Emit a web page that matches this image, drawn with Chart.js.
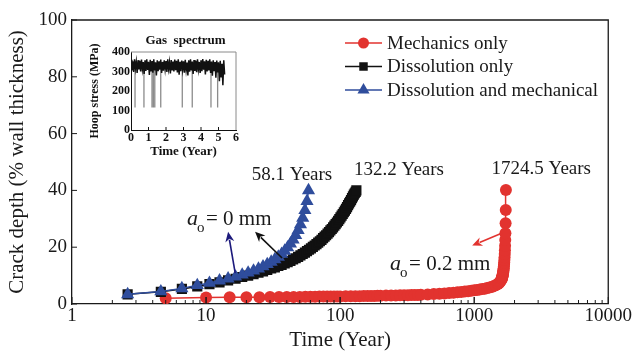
<!DOCTYPE html>
<html>
<head>
<meta charset="utf-8">
<script src="https://cdn.jsdelivr.net/npm/chart.js@4.4.0/dist/chart.umd.min.js"></script>
<style>
  html, body { margin: 0; padding: 0; background: #fff; }
  #wrap { position: relative; width: 633px; height: 358px; }
  #main { position: absolute; left: 0; top: 0; }
  #insetBox { position: absolute; left: 88px; top: 28px; width: 152px; height: 132px; }
</style>
</head>
<body>
<div id="wrap">
  <canvas id="main" width="633" height="358"></canvas>
  <div id="insetBox"><canvas id="inset" width="152" height="132"></canvas></div>
</div>
<script>
// mechanics only (a0 = 0.2 mm)
const mechTime = [5, 10, 15, 20, 25, 30, 35, 40, 45, 50, 55, 60, 65, 70, 75, 80, 85, 90, 95, 100,
  110, 120, 130, 140, 150, 160, 170, 180, 190, 200,
  220, 240, 260, 280, 300, 320, 340, 360, 380, 400,
  450, 500, 550, 600, 650, 700, 750, 800, 850, 900, 950, 1000, 1050, 1100, 1150, 1200, 1250, 1300, 1350, 1400, 1450, 1500,
  1520, 1540, 1560, 1580, 1600,
  1605, 1610, 1615, 1620, 1625, 1630, 1635, 1640, 1645, 1650, 1655, 1660, 1665, 1670, 1675, 1680, 1685, 1690, 1695, 1700,
  1705, 1710, 1715, 1720, 1724.5];
const mechDepth = [2.0, 2.3, 2.35, 2.4, 2.4, 2.45, 2.45, 2.5, 2.5, 2.5, 2.55, 2.55, 2.55, 2.6, 2.6, 2.6, 2.6, 2.65, 2.65, 2.65,
  2.7, 2.7, 2.75, 2.75, 2.8, 2.8, 2.85, 2.85, 2.9, 2.9,
  2.95, 3.0, 3.0, 3.05, 3.1, 3.1, 3.15, 3.2, 3.2, 3.25,
  3.35, 3.5, 3.6, 3.7, 3.85, 4.0, 4.1, 4.25, 4.4, 4.5, 4.65, 4.8, 4.95, 5.1, 5.25, 5.4, 5.6, 5.8, 6.0, 6.3, 6.6, 7.0,
  7.2, 7.5, 7.8, 8.2, 8.7,
  8.9, 9.1, 9.3, 9.5, 9.8, 10.1, 10.4, 10.8, 11.2, 11.6, 12.1, 12.6, 13.2, 13.9, 14.6, 15.5, 16.5, 17.6, 18.9, 20.5,
  22.5, 24.9, 28.4, 33.1, 40.1];

// dissolution only
const dissTime = [2.6, 4.6, 6.6, 8.6, 10.6, 12.6, 14.6, 16.6, 18.6, 20.6,
  22.6, 24.6, 26.6, 28.6, 30.6, 32.6, 34.6, 36.6, 38.6, 40.6,
  42.6, 44.6, 46.6, 48.6, 50.6, 52.6, 54.6, 56.6, 58.6, 60.6,
  62.6, 64.6, 66.6, 68.6, 70.6, 72.6, 74.6, 76.6, 78.6, 80.6,
  82.6, 84.6, 86.6, 88.6, 90.6, 92.6, 94.6, 96.6, 98.6, 100.6,
  102.6, 104.6, 106.6, 108.6, 110.6, 112.6, 114.6, 116.6, 118.6, 120.6,
  122.6, 124.6, 126.6, 128.6, 130.6, 132.2];
const dissDepth = [3.4, 4.3, 5.3, 6.2, 7.0, 7.6, 8.3, 8.9, 9.5, 10.0,
  10.5, 11.0, 11.5, 12.0, 12.5, 12.9, 13.4, 13.8, 14.3, 14.7,
  15.2, 15.7, 16.1, 16.6, 17.1, 17.6, 18.1, 18.6, 19.1, 19.6,
  20.1, 20.6, 21.1, 21.6, 22.1, 22.6, 23.2, 23.7, 24.2, 24.8,
  25.3, 25.9, 26.4, 27.0, 27.6, 28.1, 28.7, 29.3, 29.9, 30.5,
  31.1, 31.7, 32.3, 32.9, 33.5, 34.1, 34.8, 35.4, 36.0, 36.6,
  37.3, 37.9, 38.5, 39.0, 39.5, 40.0];

// dissolution and mechanical
const bothTime = [2.6, 4.6, 6.6, 8.6, 10.6, 12.6, 14.6, 16.6, 18.6, 20.6,
  22.6, 24.6, 26.6, 28.6, 30.6, 32.6, 34.6, 36.6, 38.6, 40.6,
  42.6, 44.6, 46.6, 48.6, 50.6, 52.6, 54.6, 56.6, 58.1];
const bothDepth = [3.4, 4.4, 5.5, 6.6, 7.4, 8.2, 8.9, 9.6, 10.3, 11.0,
  11.7, 12.4, 13.2, 14.0, 14.8, 15.7, 16.6, 17.6, 18.7, 19.9,
  21.2, 22.6, 24.2, 26.0, 28.0, 30.3, 33.0, 36.2, 40.0];

const yTicks = [0, 20, 40, 60, 80, 100];
const lifeLabels = ['58.1 Years', '132.2 Years', '1724.5 Years'];

// inset: hoop stress history, one sample every spectrumStep years
const spectrumStep = 0.05;
const spectrumStress = [360, 305, 352, 298, 362, 315, 350, 292, 358, 310,
  355, 300, 361, 312, 348, 288, 357, 303, 363, 308,
  350, 282, 360, 300, 354, 294, 362, 306, 347, 280,
  358, 302, 352, 309, 361, 292, 349, 304, 357, 311,
  354, 298, 362, 314, 348, 290, 359, 305, 351, 300,
  361, 307, 355, 295, 363, 284, 350, 302, 356, 310,
  352, 294, 360, 308, 346, 280, 357, 299, 363, 305,
  351, 288, 359, 303, 355, 296, 362, 311, 349, 292,
  357, 302, 364, 309, 352, 285, 360, 300, 355, 306,
  362, 293, 351, 278, 358, 301, 349, 268, 356, 295,
  347, 250, 355, 270, 340, 230, 357, 285];
// shut-downs: stress drops to the low level
const dropTimes = [0.23, 0.74, 1.2, 1.28, 1.36, 1.7, 2.93, 3.5, 4.57, 4.95];
const dropTop = 310;
const dropLow = 116;

const SERIF = 'Liberation Serif';
const RED = '#e2332f';
const BLACK = '#111111';
const BLUE = '#2f4d9c';
const NAVY = '#1d1a7c';

Chart.defaults.font.family = SERIF;
Chart.defaults.color = '#1a1a1a';

const pairs = (xs, ys) => xs.map((x, i) => ({ x: x, y: ys[i] }));

function arrow(ctx, x1, y1, x2, y2, color) {
  const a = Math.atan2(y2 - y1, x2 - x1);
  const len = 10, half = 4.5;
  ctx.save();
  ctx.strokeStyle = color;
  ctx.fillStyle = color;
  ctx.lineWidth = 1.6;
  ctx.beginPath();
  ctx.moveTo(x1, y1);
  ctx.lineTo(x2 - Math.cos(a) * len * 0.8, y2 - Math.sin(a) * len * 0.8);
  ctx.stroke();
  ctx.beginPath();
  ctx.moveTo(x2, y2);
  ctx.lineTo(x2 - Math.cos(a) * len - Math.sin(a) * half, y2 - Math.sin(a) * len + Math.cos(a) * half);
  ctx.lineTo(x2 - Math.cos(a) * len * 0.7, y2 - Math.sin(a) * len * 0.7);
  ctx.lineTo(x2 - Math.cos(a) * len + Math.sin(a) * half, y2 - Math.sin(a) * len - Math.cos(a) * half);
  ctx.closePath();
  ctx.fill();
  ctx.restore();
}

// a_o = ... label with italic a and subscript o
function initialCrack(ctx, x, y, rest) {
  ctx.save();
  ctx.fillStyle = '#1a1a1a';
  ctx.textBaseline = 'alphabetic';
  ctx.textAlign = 'left';
  ctx.font = 'italic 22px ' + SERIF;
  ctx.fillText('a', x, y);
  ctx.font = '15px ' + SERIF;
  ctx.fillText('o', x + 10, y + 7);
  ctx.font = '21px ' + SERIF;
  ctx.fillText(rest, x + 19, y);
  ctx.restore();
}

const frame = {
  id: 'frame',
  afterDraw(chart) {
    const { ctx, chartArea: area, scales } = chart;
    const xs = scales.x, ys = scales.y;
    ctx.save();
    ctx.strokeStyle = '#1a1a1a';
    ctx.lineWidth = 1.3;
    ctx.beginPath();
    ctx.moveTo(area.left, area.top);
    ctx.lineTo(area.right, area.top);
    ctx.lineTo(area.right, area.bottom);
    ctx.stroke();

    // inward ticks
    ctx.lineWidth = 1;
    ctx.beginPath();
    for (let e = 0; e < 4; e++) {
      for (let s = 1; s <= 10; s++) {
        const v = s * Math.pow(10, e);
        const px = xs.getPixelForValue(v);
        const len = (s === 1 || s === 10) ? 7 : 4;
        ctx.moveTo(px, area.bottom);
        ctx.lineTo(px, area.bottom - len);
      }
    }
    yTicks.forEach(v => {
      const py = ys.getPixelForValue(v);
      ctx.moveTo(area.left, py);
      ctx.lineTo(area.left + 5, py);
    });
    ctx.stroke();

    // legend
    const items = [
      { text: 'Mechanics only', color: RED, style: 'circle', r: 5.5 },
      { text: 'Dissolution only', color: BLACK, style: 'rect', r: 6 },
      { text: 'Dissolution and mechanical', color: BLUE, style: 'triangle', r: 7 }
    ];
    const lx = area.left + 273;
    items.forEach((it, i) => {
      const ly = area.top + 23 + i * 23.5;
      ctx.strokeStyle = it.color;
      ctx.fillStyle = it.color;
      ctx.lineWidth = 1.5;
      ctx.beginPath();
      ctx.moveTo(lx, ly);
      ctx.lineTo(lx + 37, ly);
      ctx.stroke();
      Chart.helpers.drawPoint(ctx, { pointStyle: it.style, radius: it.r, rotation: 0, borderWidth: 0 }, lx + 18.5, ly);
      ctx.fillStyle = '#1a1a1a';
      ctx.font = '19px ' + SERIF;
      ctx.textAlign = 'left';
      ctx.textBaseline = 'middle';
      ctx.fillText(it.text, lx + 42, ly + 1);
    });

    // end-of-life labels
    ctx.font = '19px ' + SERIF;
    ctx.textAlign = 'center';
    ctx.textBaseline = 'middle';
    ctx.fillStyle = '#1a1a1a';
    const lifePos = [[43.8, 45.4], [275, 47.2], [3165, 47.5]];
    lifeLabels.forEach((t, i) => {
      ctx.fillText(t, xs.getPixelForValue(lifePos[i][0]), ys.getPixelForValue(lifePos[i][1]));
    });

    // arrows to the curves
    const P = (t, d) => [xs.getPixelForValue(t), ys.getPixelForValue(d)];
    let a = P(16.5, 10.9), b = P(14.6, 25.4);
    arrow(ctx, a[0], a[1], b[0], b[1], NAVY);
    a = P(36.9, 16.2); b = P(23.2, 25.4);
    arrow(ctx, a[0], a[1], b[0], b[1], BLACK);
    a = P(1618, 25); b = P(966, 20.6);
    arrow(ctx, a[0], a[1], b[0], b[1], RED);

    let p = P(7.21, 27.8);
    initialCrack(ctx, p[0], p[1], '= 0 mm');
    p = P(236, 12);
    initialCrack(ctx, p[0], p[1], '= 0.2 mm');
    ctx.restore();
  }
};

new Chart(document.getElementById('main'), {
  type: 'line',
  data: {
    datasets: [
      {
        label: 'Dissolution and mechanical',
        data: pairs(bothTime, bothDepth),
        borderColor: BLUE, backgroundColor: BLUE, borderWidth: 1.5,
        pointStyle: 'triangle', pointRadius: 7.6, pointBorderWidth: 0
      },
      {
        label: 'Dissolution only',
        data: pairs(dissTime, dissDepth),
        borderColor: BLACK, backgroundColor: BLACK, borderWidth: 1.5,
        pointStyle: 'rect', pointRadius: 7.2, pointBorderWidth: 0
      },
      {
        label: 'Mechanics only',
        data: pairs(mechTime, mechDepth),
        borderColor: RED, backgroundColor: RED, borderWidth: 1.5,
        pointStyle: 'circle', pointRadius: 6, pointBorderWidth: 0
      }
    ]
  },
  options: {
    responsive: false,
    animation: false,
    events: [],
    layout: { padding: { top: 20, right: 24, left: 0, bottom: 0 } },
    plugins: { legend: { display: false }, tooltip: { enabled: false } },
    scales: {
      x: {
        type: 'logarithmic',
        min: 1, max: 10000,
        grid: { display: false, drawTicks: false },
        border: { color: '#1a1a1a', width: 1.3 },
        ticks: {
          autoSkip: false, maxRotation: 0, padding: 1,
          font: { size: 19 }, color: '#1a1a1a',
          callback: v => {
            const l = Math.log10(v);
            return Math.abs(l - Math.round(l)) < 1e-9 ? String(v) : '';
          }
        },
        title: { display: true, text: 'Time (Year)', font: { size: 21 }, color: '#1a1a1a', padding: { top: 0, bottom: 5 } },
        afterFit(s) { s.height = 54; }
      },
      y: {
        min: 0, max: 100,
        grid: { display: false, drawTicks: false },
        border: { color: '#1a1a1a', width: 1.3 },
        ticks: { stepSize: 20, padding: 5, font: { size: 19 }, color: '#1a1a1a' },
        title: { display: true, text: 'Crack depth (% wall thickness)', font: { size: 21 }, color: '#1a1a1a', padding: { top: 5, bottom: 0 } },
        afterFit(s) { s.width = 72; }
      }
    }
  },
  plugins: [frame]
});

// inset chart
const insetFrame = {
  id: 'insetFrame',
  afterDraw(chart) {
    const { ctx, chartArea: area, scales } = chart;
    ctx.save();
    ctx.strokeStyle = '#8a8a8a';
    ctx.lineWidth = 1;
    ctx.beginPath();
    ctx.moveTo(area.left, area.top);
    ctx.lineTo(area.right, area.top);
    ctx.lineTo(area.right, area.bottom);
    ctx.stroke();
    ctx.strokeStyle = '#111';
    ctx.beginPath();
    [1, 2, 3, 4, 5].forEach(v => {
      const px = scales.x.getPixelForValue(v);
      ctx.moveTo(px, area.bottom);
      ctx.lineTo(px, area.bottom - 3);
    });
    ctx.stroke();
    ctx.fillStyle = '#111';
    ctx.font = 'bold 13px ' + SERIF;
    ctx.textAlign = 'center';
    ctx.textBaseline = 'middle';
    ctx.fillText('Gas  spectrum', (area.left + area.right) / 2 + 2, area.top - 11);
    ctx.restore();
  }
};

const spectrumPoints = spectrumStress.map((s, i) => ({ x: i * spectrumStep, y: s }));
const dropPoints = [];
dropTimes.forEach(t => {
  dropPoints.push({ x: t, y: dropTop }, { x: t, y: dropLow }, { x: t, y: null });
});

new Chart(document.getElementById('inset'), {
  type: 'line',
  data: {
    datasets: [
      { data: spectrumPoints, borderColor: '#111', borderWidth: 1.5, pointRadius: 0, tension: 0 },
      { data: dropPoints, borderColor: '#8c8c8c', borderWidth: 1.3, pointRadius: 0, spanGaps: false }
    ]
  },
  options: {
    responsive: false,
    animation: false,
    events: [],
    layout: { padding: { top: 24, right: 4, left: 0, bottom: 0 } },
    plugins: { legend: { display: false }, tooltip: { enabled: false } },
    scales: {
      x: {
        type: 'linear', min: 0, max: 6,
        grid: { display: false, drawTicks: false },
        border: { color: '#111', width: 1 },
        ticks: { stepSize: 1, padding: 1, font: { size: 12, weight: 'bold' }, color: '#111' },
        title: { display: true, text: 'Time (Year)', font: { size: 13, weight: 'bold' }, color: '#111', padding: { top: 0, bottom: 1 } },
        afterFit(s) { s.height = 30; }
      },
      y: {
        min: 0, max: 400,
        grid: { display: false, drawTicks: false },
        border: { color: '#111', width: 1 },
        ticks: { stepSize: 100, padding: 1, font: { size: 12, weight: 'bold' }, color: '#111' },
        title: { display: true, text: 'Hoop stress (MPa)', font: { size: 12, weight: 'bold' }, color: '#111', padding: { top: 0, bottom: 0 } },
        afterFit(s) { s.width = 43; }
      }
    }
  },
  plugins: [insetFrame]
});
</script>
</body>
</html>
